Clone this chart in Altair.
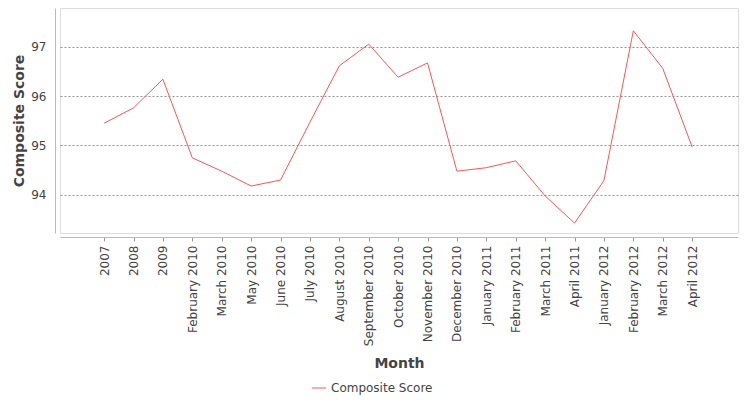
import altair as alt
import pandas as pd

months = ["2007", "2008", "2009", "February 2010", "March 2010", "May 2010",
          "June 2010", "July 2010", "August 2010", "September 2010",
          "October 2010", "November 2010", "December 2010", "January 2011",
          "February 2011", "March 2011", "April 2011", "January 2012",
          "February 2012", "March 2012", "April 2012"]
scores = [95.45, 95.76, 96.34, 94.75, 94.48, 94.18,
          94.30, 95.47, 96.61, 97.05,
          96.38, 96.67, 94.48, 94.55,
          94.69, 93.98, 93.43, 94.29,
          97.32, 96.56, 94.97]
series = ["Composite Score"] * len(months)

df = pd.DataFrame({"Month": months, "Score": scores, "Series": series,
                   "idx": list(range(len(months)))})

label_expr = "[" + ",".join("'" + m + "'" for m in months) + "][datum.value]"

font = "DejaVu Sans"

chart = alt.Chart(df).mark_line(strokeWidth=1, clip=True).encode(
    x=alt.X("idx:Q",
            scale=alt.Scale(domain=[-1.5, len(months) - 1 + 1.56], nice=False, zero=False),
            axis=alt.Axis(title="Month", values=list(range(len(months))),
                          labelExpr=label_expr,
                          labelAngle=270, labelAlign="right",
                          labelBaseline="middle", labelFontSize=12,
                          labelColor="#444444", labelFont=font,
                          labelPadding=4, tickSize=4, tickColor="#999999",
                          domainColor="#BBBBBB", offset=4, labelOverlap=False,
                          labelFlush=False,
                          titleFont=font, titleFontSize=14, titleFontWeight="bold",
                          titleColor="#444444", titlePadding=11, grid=False)),
    y=alt.Y("Score:Q",
            scale=alt.Scale(domain=[93.23, 97.78], nice=False, zero=False),
            axis=alt.Axis(title="Composite Score", values=[94, 95, 96, 97],
                          format="d", labelFontSize=12, labelColor="#444444",
                          labelFont=font, tickSize=0, labelPadding=9,
                          domainColor="#BBBBBB", offset=5,
                          titleFont=font, titleFontSize=14, titleFontWeight="bold",
                          titleColor="#444444", titlePadding=4,
                          grid=True, gridColor="#666666", gridDash=[2, 2],
                          gridWidth=0.7)),
    color=alt.Color("Series:N",
                    scale=alt.Scale(range=["#FF5555"]),
                    legend=alt.Legend(title=None, orient="none",
                                      legendX=251, legendY=372,
                                      symbolType="stroke", symbolStrokeWidth=1,
                                      symbolSize=200,
                                      labelFont=font, labelFontSize=12,
                                      labelColor="#444444")),
).properties(
    width=678, height=225,
    padding={"left": 60, "top": 8, "right": 12, "bottom": 167},
    autosize=alt.AutoSizeParams(type="none"),
).configure_view(
    fill="#F4F4F4", stroke="#808080", strokeWidth=1
).configure(background="white")

chart.save("out.html", embed_options={"renderer": "svg", "actions": False})
